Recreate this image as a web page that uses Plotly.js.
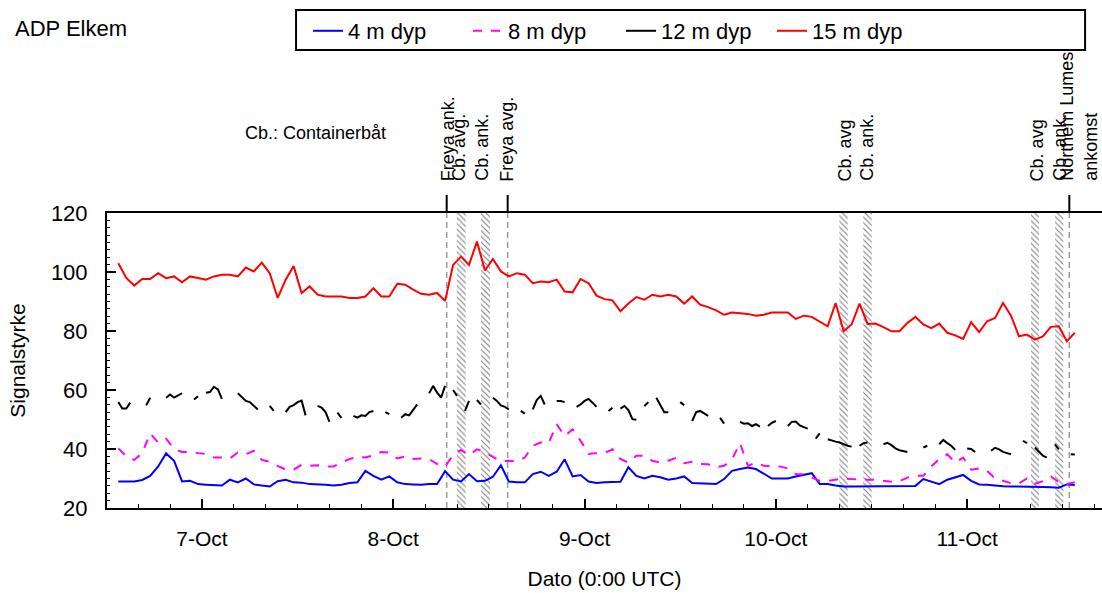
<!DOCTYPE html>
<html><head><meta charset="utf-8">
<script src="https://cdn.plot.ly/plotly-3.0.1.min.js"></script>
<style>html,body{margin:0;padding:0;background:#fff}#chart{width:1102px;height:593px}</style>
</head><body><div id="chart"></div>
<script>
// ---- sampling grids ----
const hourlyStart = '2014-10-06 13:30';
const hourlyStepMin = 60;
const halfHourStart = '2014-10-06 13:30';
const halfHourStepMin = 30;

// ---- series ----
const seriesNames = ['4 m dyp', '8 m dyp', '12 m dyp', '15 m dyp'];
const seriesColors = ['#0000ff', '#ff00ff', '#000000', '#ff0000'];

const dyp4 = [29.0, 29.0, 29.0, 29.5, 30.9, 34.1, 38.5, 36.0, 29.0, 29.2,
 28.1, 27.9, 27.8, 27.6, 29.6, 28.7, 30.0, 28.0, 27.6, 27.3,
 29.1, 29.6, 28.7, 28.6, 28.1, 28.1, 27.9, 27.6, 27.9, 28.5,
 28.7, 32.6, 30.9, 29.6, 30.7, 28.7, 28.1, 28.0, 27.9, 28.1,
 28.1, 32.5, 29.6, 29.0, 31.5, 29.1, 29.2, 30.6, 34.5, 29.0,
 28.7, 28.7, 31.5, 32.3, 30.9, 32.3, 36.5, 30.7, 31.2, 29.0,
 28.5, 28.7, 28.7, 28.9, 33.8, 30.9, 30.0, 30.9, 30.4, 29.6,
 30.0, 30.7, 28.5, 28.3, 28.1, 28.1, 29.8, 32.6, 33.2, 33.7,
 33.2, 31.5, 30.0, 30.0, 30.0, 30.7, 31.2, 31.8, 28.1, 28.1,
 27.6, 27.3, 27.3, 27.3, 27.3, 27.4, 27.5, 27.5, 27.5, 27.5,
 27.5, 29.8, 28.9, 28.1, 29.6, 30.4, 31.2, 29.2, 28.0, 27.9,
 27.6, 27.4, 27.3, 27.3, 27.3, 27.2, 27.1, 27.0, 26.9, 28.0,
 27.8];

const dyp8 = [40.2, 37.5, 36.3, 38.6, 45.3, 42.2, 43.5, 40.0, 39.0, 39.0,
 38.6, 38.3, 37.1, 37.1, 36.8, 38.8, 38.2, 39.4, 36.3, 35.7,
 34.3, 33.0, 33.0, 34.7, 34.3, 34.5, 34.1, 34.1, 35.4, 36.6,
 37.3, 37.1, 37.9, 39.0, 38.8, 36.8, 37.5, 36.6, 36.8, 36.6,
 34.9, 34.1, 37.9, 39.7, 37.9, 39.9, 39.0, 37.3, 35.9, 36.0,
 35.8, 37.1, 41.1, 42.2, 42.0, 48.4, 44.4, 46.7, 42.8, 38.3,
 38.6, 38.6, 39.9, 36.6, 35.4, 37.7, 37.7, 36.0, 35.4, 36.0,
 37.0, 35.2, 35.7, 34.9, 34.8, 33.9, 34.3, 36.5, 42.0, 34.3,
 35.4, 34.3, 34.1, 34.1, 33.4, 31.4, 31.4, 30.4, 29.2, 29.2,
 29.6, 30.0, 29.8, 29.6, 29.6, 29.6, 29.2, 28.9, 29.1, 30.3,
 30.9, 30.9, 34.1, 36.6, 38.2, 35.4, 37.1, 33.0, 33.4, 32.6,
 30.0, 29.2, 28.4, 28.3, 30.0, 28.2, 29.1, 30.7, 28.7, 28.1,
 28.7];

// 12 m: half-hourly, null = missing sample
const dyp12 = [55.9, 53.7, 53.7, 55.7, null, null, null, 54.8, 57.4, null,
 null, null, 57.4, 58.5, 57.4, 58.3, 58.9, null, null, 56.8,
 57.9, null, 59.1, 59.3, 61.1, 60.2, 57.0, null, null, null,
 58.9, 57.6, 56.3, 55.9, 54.8, 53.4, null, null, 54.6, 52.9,
 null, null, 52.5, 54.3, 54.9, 55.9, 56.4, 51.4, null, null,
 54.6, 54.0, 52.5, 49.2, null, 52.3, 50.5, null, null, 51.2,
 50.6, 51.4, 51.2, 52.5, 52.9, null, null, 52.5, 51.8, null,
 null, 50.6, 51.8, 51.4, 53.4, 55.1, null, null, 58.9, 61.4,
 59.1, 57.4, 61.4, null, 60.0, 58.0, null, 52.9, 56.3, null,
 56.6, 55.1, null, null, 57.4, 56.3, 54.8, 54.3, 53.4, null,
 null, 52.9, 52.0, null, 53.4, 56.6, 58.0, 55.1, null, null,
 56.3, 56.3, 55.9, null, null, 54.3, 55.1, 56.3, 57.0, 55.7,
 54.3, null, null, 52.9, 54.0, null, 53.7, 54.6, 53.2, 50.1,
 49.9, null, 54.6, 55.9, null, 57.4, 55.1, 52.5, 52.5, null,
 null, 55.9, 54.8, null, 49.5, 52.5, 52.9, 52.1, 51.2, null,
 null, 50.6, 48.6, null, null, null, 49.2, 48.6, 48.7, 47.8,
 48.4, 47.6, null, 47.8, 48.9, 49.5, null, null, 47.8, 49.2,
 49.3, 48.0, 47.4, 46.9, null, 43.5, 45.3, null, 43.3, 42.8,
 42.5, 42.2, 41.6, 41.1, 40.8, null, 41.1, 42.0, 42.2, null,
 null, null, 41.6, 42.1, 41.3, 40.2, 39.6, 39.4, 39.0, null,
 null, null, 40.5, 41.1, null, null, 41.6, 43.1, 42.0, 41.1,
 39.7, null, null, 40.2, 40.0, 39.0, null, null, null, 39.4,
 40.4, 39.9, 39.0, 38.6, 38.2, null, null, 42.8, 42.0, null,
 40.5, 39.0, 37.7, 37.1, null, 41.6, 39.9, null, null, 38.2,
 38.1];

const dyp15 = [103, 98, 95.4, 97.6, 97.6, 99.6, 97.9, 98.5, 96.5, 98.5,
 98, 97.4, 98.5, 99.1, 99.1, 98.5, 101.5, 100.2, 103.2, 99.6,
 91.2, 97.4, 102, 92.9, 95.1, 92.3, 91.7, 91.7, 91.7, 91.2,
 91.2, 91.7, 94.5, 91.7, 91.7, 96.0, 95.7, 94.0, 92.6, 92.3,
 92.9, 90.2, 102.4, 105.2, 102.4, 110.3, 100.5, 104.4, 100.2, 98.5,
 99.6, 99.1, 96.2, 96.8, 96.5, 97.4, 93.4, 93.1, 97.6, 96.2,
 92.0, 90.8, 90.4, 86.7, 89.3, 91.5, 90.6, 92.3, 91.7, 92.3,
 91.7, 89.3, 91.7, 88.9, 88.1, 87.0, 85.5, 86.3, 86.1, 85.8,
 85.2, 85.5, 86.3, 86.3, 86.3, 84.1, 85.2, 84.8, 83.3, 81.6,
 89.5, 79.9, 82.2, 89.3, 82.4, 82.5, 81.3, 79.9, 79.9, 82.7,
 84.8, 82.2, 81.0, 82.5, 79.4, 78.5, 77.3, 83.0, 79.6, 83.3,
 84.4, 89.5, 85.2, 78.2, 78.8, 77.1, 78.2, 81.4, 81.6, 76.5,
 79.4];

// ---- events ----
const eventTimes = ['2014-10-08 06:42', '2014-10-08 14:21', '2014-10-11 12:49'];
const bandStart = ['2014-10-08 07:58', '2014-10-08 11:00', '2014-10-10 07:58', '2014-10-10 10:58', '2014-10-11 08:01', '2014-10-11 11:02'];
const bandEnd   = ['2014-10-08 09:05', '2014-10-08 12:08', '2014-10-10 09:01', '2014-10-10 12:02', '2014-10-11 09:01', '2014-10-11 12:04'];
const labelTexts = ['Freya ank.', 'Cb. avg.', 'Cb. ank.', 'Freya avg.', 'Cb. avg', 'Cb. ank.', 'Cb. avg', 'Cb. ank.', 'Northern Lumes<br>ankomst'];
const labelTimes = ['2014-10-08 06:48', '2014-10-08 08:15', '2014-10-08 11:08', '2014-10-08 14:16', '2014-10-10 08:41', '2014-10-10 11:26', '2014-10-11 08:46', '2014-10-11 11:39', '2014-10-11 14:02'];

const xRange = ['2014-10-06 12:05', '2014-10-11 16:55'];

// ---- helpers ----
function toMs(s) {
  const [d, t] = s.split(' ');
  const [Y, M, D] = d.split('-').map(Number);
  const [h, m] = t.split(':').map(Number);
  return Date.UTC(Y, M - 1, D, h, m);
}
function fmt(ms) { return new Date(ms).toISOString().slice(0, 19).replace('T', ' '); }
function grid(start, stepMin, n) {
  const s = toMs(start); const out = [];
  for (let i = 0; i < n; i++) out.push(fmt(s + i * stepMin * 60000));
  return out;
}
const tH = grid(hourlyStart, hourlyStepMin, dyp4.length);
const tHalf = grid(halfHourStart, halfHourStepMin, dyp12.length);

const FONT = 'Liberation Sans, Arial, sans-serif';

const traces = [];
// hatched bands
traces.push({
  type: 'bar',
  x: bandStart.map((s, i) => fmt((toMs(s) + toMs(bandEnd[i])) / 2)),
  width: bandStart.map((s, i) => toMs(bandEnd[i]) - toMs(s)),
  y: bandStart.map(() => 100), base: bandStart.map(() => 20),
  marker: { color: 'white', line: { width: 0 },
    pattern: { shape: '\\', fgcolor: '#808080', bgcolor: 'white', size: 4, solidity: 0.28 } },
  showlegend: false, hoverinfo: 'skip'
});
const ys = [dyp4, dyp8, dyp12, dyp15];
const xs = [tH, tH, tHalf, tH];
const legends = ['legend', 'legend2', 'legend3', 'legend4'];
for (let k = 0; k < 4; k++) {
  traces.push({
    type: 'scatter', mode: 'lines', name: seriesNames[k],
    x: xs[k], y: ys[k], connectgaps: false,
    line: { color: seriesColors[k], width: 2, dash: k === 1 ? 'dash' : 'solid' },
    legend: legends[k]
  });
}

const shapes = [];
eventTimes.forEach(t => {
  shapes.push({ type: 'line', xref: 'x', yref: 'paper', x0: t, x1: t, y0: 0, y1: 1,
    line: { color: '#9a9a9a', width: 1.5, dash: '6px,4px' }, layer: 'below' });
  shapes.push({ type: 'line', xref: 'x', yref: 'paper', x0: t, x1: t, y0: 1, y1: 1.061,
    line: { color: '#000', width: 2 } });
});
// legend frame
shapes.push({ type: 'rect', xref: 'paper', yref: 'paper', x0: 0.19, x1: 0.983, y0: 1.5525, y1: 1.688,
  line: { color: '#000', width: 2 }, fillcolor: 'rgba(0,0,0,0)' });

const annotations = labelTexts.map((txt, i) => ({
  x: labelTimes[i], xref: 'x', y: 1.1005, yref: 'paper', text: txt,
  textangle: -90, showarrow: false, xanchor: 'center', yanchor: 'bottom', align: 'left',
  font: { family: FONT, size: 18, color: '#000' }
}));
annotations.push({ x: -0.0945, xref: 'paper', y: 1.627, yref: 'paper', text: 'ADP Elkem',
  showarrow: false, xanchor: 'left', yanchor: 'middle', font: { family: FONT, size: 22, color: '#000' } });
annotations.push({ x: 0.1367, xref: 'paper', y: 1.271, yref: 'paper', text: 'Cb.: Containerbåt',
  showarrow: false, xanchor: 'left', yanchor: 'middle', font: { family: FONT, size: 18, color: '#000' } });

function legendAt(px) {
  return { x: (px - 107) / 995, xanchor: 'left', y: 1.617, yanchor: 'middle', orientation: 'h',
    bgcolor: 'rgba(0,0,0,0)', borderwidth: 0, font: { family: FONT, size: 22, color: '#000' } };
}

const layout = {
  width: 1102, height: 593,
  margin: { l: 107, r: 0, t: 213, b: 85 },
  paper_bgcolor: '#fff', plot_bgcolor: '#fff',
  font: { family: FONT, size: 22, color: '#000' },
  showlegend: true,
  legend: legendAt(308), legend2: legendAt(468), legend3: legendAt(621), legend4: legendAt(772),
  barmode: 'overlay',
  xaxis: {
    type: 'date', range: xRange, tick0: '2014-10-07', dtick: 86400000, tickformat: '%-d-%b',
    ticks: 'inside', ticklen: 9, tickwidth: 2, tickcolor: '#000',
    minor: { dtick: 14400000, ticks: 'inside', ticklen: 4, tickwidth: 1, tickcolor: '#000', showgrid: false },
    showline: true, linewidth: 2, linecolor: '#000', mirror: true, showgrid: false, zeroline: false,
    ticklabelstandoff: 11,
    tickfont: { family: FONT, size: 21 },
    title: { text: 'Dato (0:00 UTC)', font: { family: FONT, size: 21 }, standoff: 22 }
  },
  yaxis: {
    range: [20, 120], dtick: 20, tick0: 20,
    ticks: 'inside', ticklen: 9, tickwidth: 2, tickcolor: '#000',
    minor: { dtick: 2.5, ticks: 'inside', ticklen: 3, tickwidth: 1, tickcolor: '#000', showgrid: false },
    showline: true, linewidth: 2, linecolor: '#000', showgrid: false, zeroline: false,
    ticklabelstandoff: 13,
    tickfont: { family: FONT, size: 22 },
    title: { text: 'Signalstyrke', font: { family: FONT, size: 21 }, standoff: 20 }
  },
  shapes: shapes, annotations: annotations
};

Plotly.newPlot('chart', traces, layout, { staticPlot: true, displayModeBar: false });
</script></body></html>
